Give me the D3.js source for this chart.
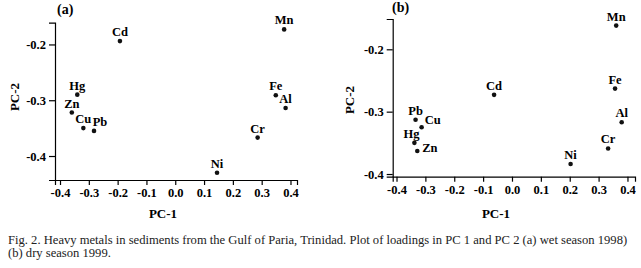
<!DOCTYPE html>
<html><head><meta charset="utf-8">
<script src="https://cdn.jsdelivr.net/npm/d3@7/dist/d3.min.js"></script>
<style>
html,body{margin:0;padding:0;background:#fff;}
svg{display:block;}
text{font-family:"Liberation Serif","Times New Roman",serif;}
</style></head>
<body>
<svg id="c" width="641" height="268"></svg>
<script>
// ---- data ----
const metals = ["Mn","Fe","Al","Cr","Ni","Cd","Hg","Zn","Cu","Pb"];
const wetPC1 = [0.378, 0.349, 0.383, 0.286, 0.145, -0.192, -0.340, -0.359, -0.319, -0.282];
const wetPC2 = [-0.173, -0.291, -0.314, -0.367, -0.430, -0.194, -0.290, -0.322, -0.350, -0.355];
const dryPC1 = [0.361, 0.357, 0.380, 0.333, 0.203, -0.062, -0.338, -0.328, -0.313, -0.334];
const dryPC2 = [-0.162, -0.263, -0.317, -0.359, -0.384, -0.273, -0.350, -0.363, -0.325, -0.313];
const xTicks = [-0.4,-0.3,-0.2,-0.1,0.0,0.1,0.2,0.3,0.4];
const yTicks = [-0.2,-0.3,-0.4];
const panelTitles = ["(a)","(b)"];
const xTitle = "PC-1", yTitle = "PC-2";
const caption1 = "Fig. 2. Heavy metals in sediments from the Gulf of Paria, Trinidad. Plot of loadings in PC 1 and PC 2 (a) wet season 1998)";
const caption2 = "(b) dry season 1999.";

// ---- layout (label offsets: dx, dy, anchor) ----
const layoutA = {
  x0:55, x1:297, y0:22.7, y1:180,
  xd:[-0.4174, 0.4226], yd:[-0.161, -0.443],
  title:[57,14], ytitle:[14,97], xtitle:[163,218],
  lab:{Pb:[6,-5,"middle"], Cu:[0,-5,"middle"]}
};
const layoutB = {
  x0:392.7, x1:635, y0:19, y1:176.7,
  xd:[-0.4132, 0.4261], yd:[-0.1514, -0.4043],
  title:[392,12], ytitle:[349,100], xtitle:[496,218],
  lab:{Cu:[3,-3,"start"], Zn:[5,1,"start"], Hg:[-3,-5,"middle"]}
};

const svg = d3.select("#c");

function panel(L, px, py, title){
  const g = svg.append("g");
  const x = d3.scaleLinear().domain(L.xd).range([L.x0, L.x1]);
  const y = d3.scaleLinear().domain(L.yd).range([L.y0, L.y1]);
  const ax = g.append("g").attr("transform",`translate(0,${L.y1})`)
    .call(d3.axisBottom(x).tickValues(xTicks).tickSizeOuter(0).tickSize(5).tickPadding(3).tickFormat(d3.format(".1f")));
  const ay = g.append("g").attr("transform",`translate(${L.x0},0)`)
    .call(d3.axisLeft(y).tickValues(yTicks).tickSizeOuter(0).tickSize(6).tickPadding(3).tickFormat(d3.format(".1f")));
  [ax,ay].forEach(a=>{
    a.selectAll("path,line").attr("stroke","#000").attr("stroke-width",1.2);
    a.selectAll("text").attr("font-family","Liberation Serif, serif").attr("font-weight","bold").attr("font-size",12.5).attr("fill","#000");
  });
  ax.selectAll("text").text(d=>d3.format(".1f")(d).replace("−","-"));
  ay.selectAll("text").text(d=>d3.format(".1f")(d).replace("−","-"));

  const pts = metals.map((m,i)=>({m, x:px[i], y:py[i]}));
  g.selectAll("circle.p").data(pts).enter().append("circle")
    .attr("cx",d=>x(d.x)).attr("cy",d=>y(d.y)).attr("r",2.3).attr("fill","#111");
  g.selectAll("text.l").data(pts).enter().append("text")
    .attr("x",d=>x(d.x)+((L.lab[d.m]||[0,-5])[0]))
    .attr("y",d=>y(d.y)+((L.lab[d.m]||[0,-5])[1]))
    .attr("text-anchor",d=>(L.lab[d.m]||[0,-5,"middle"])[2]||"middle")
    .attr("font-weight","bold").attr("font-size",12.5).attr("fill","#000")
    .text(d=>d.m);

  g.append("text").attr("x",L.title[0]).attr("y",L.title[1])
    .attr("font-weight","bold").attr("font-size",14).text(title);
  g.append("text").attr("transform",`translate(${L.ytitle[0]},${L.ytitle[1]}) rotate(-90)`)
    .attr("text-anchor","middle").attr("dy","0.35em")
    .attr("font-weight","bold").attr("font-size",13).text(yTitle);
  g.append("text").attr("x",L.xtitle[0]).attr("y",L.xtitle[1]).attr("text-anchor","middle")
    .attr("font-weight","bold").attr("font-size",13).text(xTitle);
}

panel(layoutA, wetPC1, wetPC2, panelTitles[0]);
panel(layoutB, dryPC1, dryPC2, panelTitles[1]);

svg.append("text").attr("x",8).attr("y",244).attr("font-size",12.6).attr("fill","#222").text(caption1);
svg.append("text").attr("x",8).attr("y",257).attr("font-size",12.6).attr("fill","#222").text(caption2);
</script>
</body></html>
